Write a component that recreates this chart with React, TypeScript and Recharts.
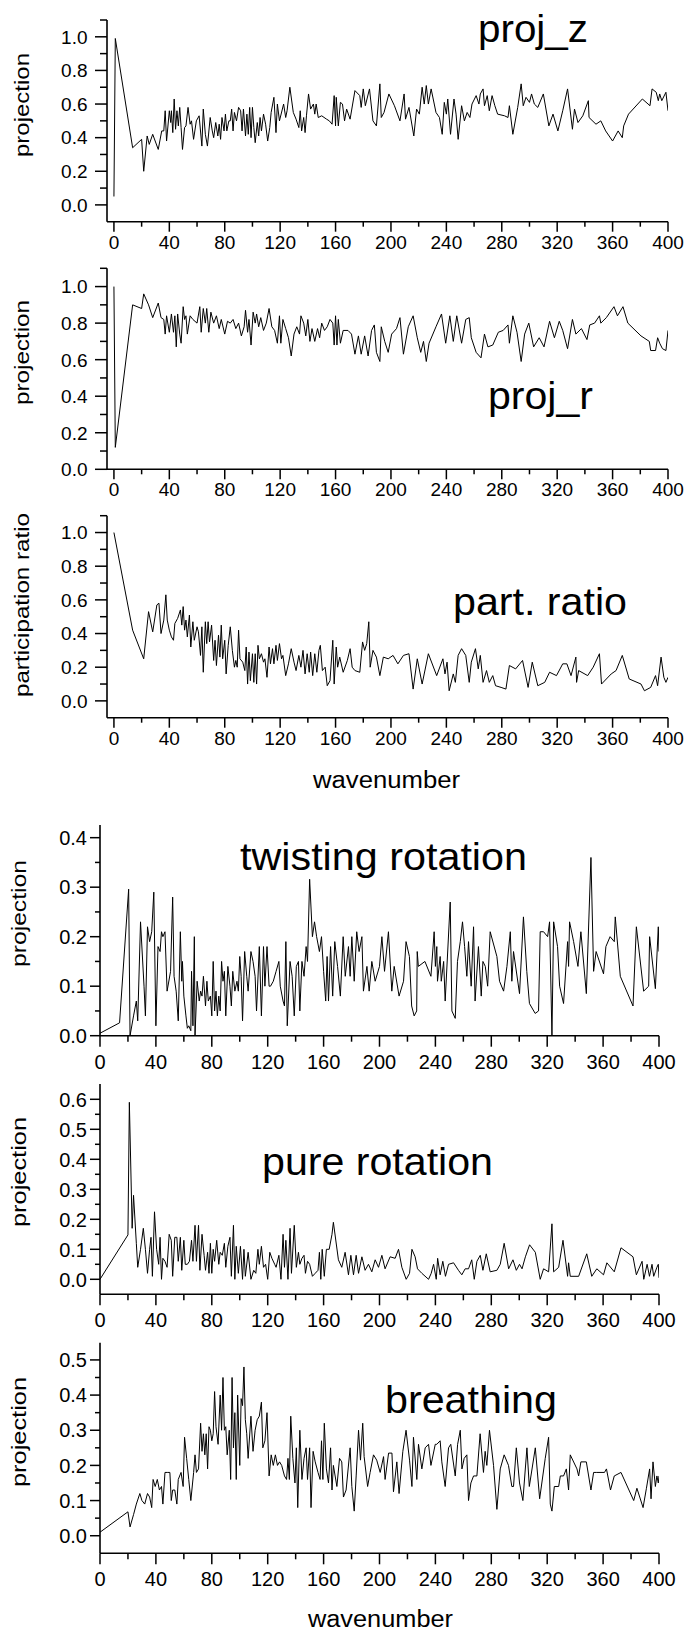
import React from 'react';
import { LineChart, Line, XAxis, YAxis } from 'recharts';

type Pt = [number, number];

// wavenumber / value pairs
const projZ: Pt[] = [[0,0.05],[1,0.99],[13.5,0.34],[20,0.39],[21.5,0.2],[24,0.41],[25.5,0.36],[28,0.42],[32,0.33],[34.5,0.44],[36,0.44],[37,0.56],[38,0.38],[40,0.56],[41,0.49],[41.5,0.56],[42.5,0.43],[43.5,0.63],[44.5,0.45],[45.5,0.56],[46.5,0.47],[47.5,0.58],[48.5,0.46],[49.5,0.33],[51,0.46],[52,0.47],[53.5,0.58],[55,0.48],[56,0.5],[57.5,0.39],[59.5,0.5],[61.5,0.53],[63.5,0.35],[64.5,0.57],[66,0.42],[67.5,0.35],[69.5,0.52],[71,0.44],[72,0.4],[73.5,0.49],[75,0.41],[76,0.48],[77,0.39],[78,0.52],[79.5,0.44],[80.5,0.54],[81.5,0.44],[83,0.5],[84,0.5],[85,0.57],[86,0.44],[87,0.55],[88.5,0.5],[90,0.58],[91.5,0.56],[92.5,0.44],[93.5,0.57],[95,0.41],[96,0.54],[97,0.42],[98,0.58],[99,0.4],[100,0.58],[101,0.46],[102,0.37],[103.5,0.49],[104.5,0.41],[105.5,0.52],[106.5,0.44],[108,0.54],[109.5,0.48],[111,0.38],[112.5,0.46],[113.5,0.55],[115.5,0.64],[117,0.43],[118,0.6],[119.5,0.5],[122.5,0.6],[124,0.52],[125,0.56],[127,0.7],[129.5,0.55],[131.5,0.51],[133.5,0.46],[134.5,0.56],[135.5,0.44],[137,0.52],[138,0.43],[139,0.53],[140.5,0.66],[142,0.57],[144,0.6],[145,0.54],[146,0.6],[147.5,0.52],[150,0.53],[153.5,0.51],[155.5,0.5],[157.5,0.48],[159,0.65],[160,0.47],[160.5,0.64],[162,0.47],[163.5,0.61],[165,0.6],[166.5,0.5],[168,0.57],[170.5,0.51],[174,0.68],[177.5,0.65],[178.5,0.58],[180,0.69],[181.5,0.59],[184.5,0.69],[187,0.5],[189.5,0.47],[192,0.72],[193,0.52],[195,0.55],[198.5,0.66],[202.5,0.59],[206.5,0.5],[209.5,0.66],[210.5,0.51],[213,0.58],[216.5,0.41],[218.5,0.57],[220.5,0.54],[222.5,0.7],[224,0.6],[225.5,0.71],[227,0.6],[229,0.69],[232.5,0.55],[235,0.52],[237,0.42],[238.5,0.61],[240,0.54],[241,0.63],[243,0.42],[245.5,0.63],[247,0.54],[248.5,0.39],[251,0.59],[253,0.5],[255,0.55],[257,0.52],[258.5,0.6],[261.5,0.65],[263.5,0.6],[264.5,0.66],[266.5,0.69],[267.5,0.59],[269.5,0.65],[271,0.56],[273,0.65],[275,0.59],[277,0.54],[282,0.53],[284.5,0.52],[285.5,0.59],[288,0.42],[291.5,0.58],[294,0.72],[295.5,0.59],[297.5,0.64],[300,0.61],[301.5,0.66],[303.5,0.6],[306,0.58],[310,0.66],[314,0.47],[317,0.54],[320.5,0.44],[324,0.56],[327.5,0.69],[331,0.45],[332.5,0.57],[335,0.49],[338.5,0.53],[342.5,0.62],[343,0.52],[348,0.48],[351.5,0.5],[355,0.44],[360,0.38],[364,0.44],[367,0.4],[368,0.47],[371.5,0.54],[381.5,0.63],[387,0.59],[388.5,0.69],[391.5,0.67],[393,0.62],[394,0.66],[395.5,0.62],[398.5,0.67],[400,0.56]];

const projR: Pt[] = [[0,1.0],[1,0.12],[13.5,0.9],[20,0.88],[21.5,0.96],[25,0.9],[28,0.83],[32,0.91],[34,0.83],[36,0.82],[37,0.74],[38,0.84],[40,0.75],[41.5,0.85],[43,0.75],[44,0.84],[45,0.67],[46,0.85],[47.5,0.74],[48.5,0.69],[50,0.89],[51,0.82],[52,0.84],[53,0.74],[55,0.84],[57,0.82],[60,0.8],[62,0.89],[63,0.75],[64.5,0.88],[66,0.8],[67,0.88],[68.5,0.75],[70,0.86],[72,0.8],[74,0.84],[76,0.77],[77.5,0.82],[80,0.74],[82,0.81],[84,0.8],[86,0.82],[88,0.77],[90,0.8],[92,0.73],[94,0.78],[95,0.87],[96.5,0.75],[97.5,0.82],[99,0.68],[100.5,0.86],[102,0.8],[103,0.85],[104.5,0.78],[106,0.83],[108,0.76],[110,0.8],[112,0.88],[114,0.78],[116,0.76],[118,0.69],[119.5,0.84],[120.5,0.69],[122,0.82],[124,0.77],[126,0.72],[128,0.62],[130,0.74],[132,0.78],[134,0.74],[135,0.84],[137,0.8],[138.5,0.73],[140,0.82],[141.5,0.7],[143,0.77],[145,0.7],[147,0.77],[148.5,0.72],[150,0.8],[152,0.76],[154,0.78],[156,0.82],[158,0.8],[159,0.68],[160,0.84],[161,0.68],[162,0.82],[163.5,0.69],[165.5,0.76],[169,0.76],[171.5,0.74],[174,0.63],[176.5,0.73],[178.5,0.63],[181,0.73],[183.5,0.62],[186,0.76],[188,0.79],[189.5,0.64],[192,0.59],[193,0.78],[195.5,0.7],[198,0.64],[200.5,0.74],[204,0.77],[206.5,0.83],[209,0.63],[212.5,0.78],[216,0.84],[219,0.72],[221.5,0.64],[223.5,0.7],[225.5,0.59],[227.5,0.69],[232.5,0.78],[236.5,0.85],[239.5,0.69],[242.5,0.84],[245,0.7],[247.5,0.84],[251,0.69],[254,0.82],[256.5,0.83],[258,0.72],[261.5,0.64],[265,0.61],[267.5,0.74],[270,0.67],[273.5,0.68],[277.5,0.75],[281,0.76],[284.5,0.79],[285.5,0.69],[288,0.84],[291,0.75],[294,0.59],[296.5,0.74],[299.5,0.8],[303,0.67],[307,0.72],[310.5,0.67],[314.5,0.81],[318,0.72],[321.5,0.81],[324,0.76],[327.5,0.66],[331,0.82],[333.5,0.74],[337.5,0.77],[341.5,0.71],[343.5,0.79],[347,0.8],[350.5,0.84],[351.5,0.8],[355.5,0.83],[361,0.89],[363.5,0.84],[367.5,0.89],[371,0.8],[380.5,0.73],[386.5,0.7],[387.5,0.65],[391,0.65],[392.5,0.72],[394,0.69],[396,0.66],[398.5,0.65],[400,0.76]];

const partRatio: Pt[] = [[0,1.0],[13.5,0.42],[21.5,0.25],[25,0.53],[28,0.41],[31,0.57],[32.5,0.58],[34,0.4],[36,0.48],[37.5,0.63],[38.5,0.48],[40,0.42],[41.5,0.38],[43,0.36],[44,0.46],[46,0.49],[48,0.54],[49,0.45],[50,0.56],[51,0.42],[52,0.48],[53,0.38],[54.5,0.51],[55.5,0.32],[57,0.47],[58,0.36],[60,0.44],[61,0.41],[62.5,0.27],[63.5,0.44],[64.5,0.17],[66,0.47],[67,0.34],[68,0.47],[69,0.35],[70.5,0.45],[72,0.24],[73,0.36],[74,0.21],[75.5,0.39],[76.5,0.26],[77.5,0.45],[78.5,0.25],[80,0.36],[81,0.16],[82.5,0.33],[84,0.44],[85.5,0.3],[87,0.2],[88,0.24],[89,0.2],[90,0.42],[91,0.25],[93,0.23],[94.5,0.18],[95.5,0.32],[96.5,0.1],[97.5,0.29],[98.5,0.12],[100,0.28],[101,0.11],[102,0.28],[103,0.1],[104,0.33],[105,0.25],[106.5,0.28],[108,0.23],[109,0.25],[110.5,0.14],[112,0.32],[113,0.22],[114.5,0.31],[115.5,0.22],[117,0.33],[118,0.24],[119.5,0.34],[121,0.25],[122,0.27],[124,0.15],[126,0.22],[128,0.31],[130,0.23],[131.5,0.18],[133.5,0.27],[135,0.2],[136.5,0.3],[138,0.16],[139.5,0.28],[141,0.17],[142,0.29],[143.5,0.15],[145,0.28],[146.5,0.17],[148,0.3],[149,0.33],[150.5,0.18],[152.5,0.2],[154,0.09],[156,0.12],[158,0.36],[159,0.1],[160.5,0.32],[161.5,0.2],[163,0.26],[165.5,0.17],[168.5,0.24],[170.5,0.31],[172,0.2],[174,0.18],[177.5,0.17],[179.5,0.35],[181,0.3],[182.5,0.34],[184,0.47],[185,0.2],[187,0.3],[189.5,0.26],[192,0.15],[194.5,0.26],[198,0.25],[201.5,0.27],[205,0.22],[209,0.27],[213,0.28],[216,0.07],[219,0.25],[222.5,0.1],[227,0.28],[233,0.15],[237.5,0.25],[239,0.16],[240.5,0.23],[242,0.06],[245,0.16],[246.5,0.11],[248.5,0.27],[251,0.31],[254,0.27],[256.5,0.11],[258,0.23],[261,0.31],[263,0.19],[264.5,0.27],[266.5,0.11],[269,0.18],[271,0.11],[273.5,0.15],[275.5,0.09],[279.5,0.08],[283,0.07],[285.5,0.21],[290,0.19],[295,0.24],[299,0.08],[302,0.23],[306,0.09],[311,0.11],[314.5,0.17],[319.5,0.15],[324,0.22],[327,0.22],[330,0.15],[333.5,0.26],[334,0.11],[335.5,0.18],[342,0.15],[346,0.2],[350.5,0.28],[352,0.1],[359,0.16],[362.5,0.18],[367,0.27],[372,0.13],[380.5,0.1],[383,0.06],[387.5,0.08],[391,0.15],[392.5,0.09],[395,0.26],[397,0.14],[398.5,0.11],[400,0.14]];

const twisting: Pt[] = [[0,0.005],[14,0.026],[20.5,0.296],[21.5,0.0],[24,0.04],[26,0.07],[27,0.03],[29,0.23],[31.5,0.1],[32.5,0.04],[34,0.22],[35.5,0.19],[37,0.21],[38.5,0.29],[40,0.02],[41.5,0.18],[43,0.17],[44,0.21],[45,0.2],[46.5,0.21],[48,0.09],[50.5,0.13],[52,0.28],[53,0.12],[54.5,0.09],[56,0.03],[57.5,0.21],[58.5,0.11],[59,0.15],[60,0.08],[61.5,0.04],[62.5,0.015],[63.5,0.02],[65,0.01],[65.5,0.13],[66.5,0.02],[67.5,0.2],[68,0.0],[69.5,0.11],[71,0.07],[72,0.09],[73,0.08],[74,0.12],[75.5,0.06],[76.5,0.11],[77.5,0.07],[79,0.08],[80,0.04],[81,0.15],[82,0.05],[83,0.09],[84,0.04],[85,0.08],[86,0.05],[87,0.15],[88,0.11],[89,0.13],[90,0.04],[91.5,0.14],[93,0.1],[94,0.06],[95,0.13],[96.5,0.09],[98,0.11],[99,0.09],[100,0.16],[101,0.12],[102,0.03],[103.5,0.17],[105,0.12],[106,0.09],[108,0.17],[109.5,0.15],[111,0.12],[112,0.05],[114,0.18],[115.5,0.04],[117,0.18],[118,0.1],[119.5,0.18],[121,0.1],[122,0.1],[124,0.11],[126,0.13],[128,0.15],[129,0.1],[131,0.07],[132,0.06],[133,0.19],[134,0.02],[136,0.15],[137.5,0.12],[139,0.04],[140.5,0.14],[142,0.15],[143,0.05],[144.5,0.15],[146,0.12],[147.5,0.18],[148.5,0.15],[150,0.316],[152,0.2],[153.5,0.23],[155,0.2],[157,0.17],[158.5,0.2],[160,0.13],[161.5,0.07],[162.5,0.16],[163.5,0.07],[165,0.18],[166.5,0.08],[168,0.19],[170,0.14],[172,0.08],[174,0.2],[175.5,0.12],[177.8,0.18],[179,0.12],[180.2,0.2],[181.9,0.11],[183.7,0.21],[185.4,0.17],[187.4,0.2],[188.5,0.09],[191,0.14],[192.6,0.09],[194.5,0.15],[196.9,0.11],[200,0.14],[201.7,0.2],[203.6,0.13],[206.4,0.21],[208.8,0.09],[210.5,0.14],[214,0.08],[217.2,0.11],[219,0.19],[221.4,0.16],[223,0.06],[224.8,0.04],[226.6,0.05],[227,0.17],[227.8,0.14],[232.5,0.15],[236.8,0.12],[239.1,0.21],[240,0.14],[241,0.18],[241.5,0.11],[243.4,0.16],[244.2,0.11],[245.9,0.15],[247,0.07],[250.6,0.27],[251.8,0.05],[254.2,0.035],[255.8,0.15],[257.8,0.19],[259.4,0.23],[260.9,0.18],[262.5,0.12],[263.7,0.19],[265.6,0.1],[267.3,0.22],[268.4,0.07],[270.8,0.18],[272.8,0.08],[274,0.15],[275.7,0.14],[277.4,0.1],[279.2,0.21],[284,0.16],[285.9,0.11],[288.8,0.09],[291.2,0.14],[293.6,0.21],[294.7,0.11],[295.9,0.17],[300.2,0.085],[303,0.24],[305.4,0.13],[307.3,0.065],[311.4,0.045],[313.8,0.05],[315,0.21],[317.4,0.21],[320.3,0.2],[321.7,0.23],[323.4,0.0],[324.6,0.23],[327.4,0.18],[328.9,0.1],[331.7,0.065],[334.6,0.19],[335.3,0.14],[336,0.23],[338.9,0.19],[342,0.14],[344.1,0.21],[348,0.085],[351.3,0.36],[353.2,0.13],[355,0.17],[360.3,0.125],[362,0.18],[365,0.2],[368,0.19],[368.7,0.24],[372.3,0.12],[381.4,0.06],[383.8,0.22],[389,0.09],[392.6,0.1],[393.3,0.2],[397.4,0.095],[399.5,0.22],[400,0.17]];

const pureRotation: Pt[] = [[0,0.0],[20,0.148],[21,0.59],[23,0.17],[24,0.28],[26,0.12],[27,0.04],[29,0.1],[31,0.17],[32.5,0.1],[34,0.02],[35.5,0.1],[36.5,0.14],[37.5,0.01],[39,0.225],[40.5,0.1],[42,0.05],[43,0.14],[44,0.0],[45,0.07],[46.5,0.06],[48,0.04],[49.5,0.15],[51,0.13],[52,0.01],[53.5,0.14],[55,0.14],[56,0.06],[57.5,0.14],[58.5,0.03],[60,0.13],[61,0.05],[62.5,0.05],[64,0.06],[65.5,0.13],[66.5,0.06],[68,0.18],[69,0.06],[70.5,0.18],[71.5,0.03],[73,0.15],[74.5,0.08],[75.5,0.03],[77,0.09],[78,0.02],[79,0.12],[80,0.02],[81,0.1],[82,0.06],[83.5,0.13],[85,0.05],[86,0.09],[87.5,0.08],[89,0.12],[90,0.04],[91.5,0.11],[93,0.14],[94,0.01],[95.5,0.18],[96.5,0.0],[97.5,0.11],[99,0.02],[100.5,0.11],[102,0.0],[103,0.1],[104,0.01],[106,0.09],[108,0.0],[110,0.03],[111.5,0.02],[113,0.1],[114,0.05],[115.5,0.11],[117,0.04],[118.5,0.05],[120,0.0],[121.5,0.09],[123,0.07],[125,0.05],[126,0.04],[128,0.08],[129.5,0.0],[131,0.15],[132,0.04],[133,0.13],[134.5,0.0],[136,0.17],[137,0.02],[139,0.18],[140.5,0.04],[142,0.09],[143,0.05],[144.5,0.07],[146,0.08],[147,0.02],[148.5,0.06],[150,0.05],[152,0.01],[154,0.02],[156,0.03],[157,0.09],[158,0.0],[159,0.1],[160.5,0.01],[162,0.1],[164,0.1],[166,0.15],[167,0.19],[170.6,0.065],[173,0.04],[175.4,0.09],[177.8,0.015],[179.5,0.08],[181.4,0.015],[183.3,0.08],[185,0.02],[187.4,0.075],[189.7,0.03],[192.1,0.05],[194.5,0.025],[196.9,0.065],[199.3,0.04],[201.7,0.08],[204,0.035],[207.6,0.075],[211.2,0.07],[213.6,0.1],[216,0.04],[219.1,0.0],[221.5,0.02],[223.2,0.1],[225.5,0.075],[227.2,0.035],[230.3,0.02],[235.1,0.0],[237,0.02],[238.7,0.05],[240.6,0.0],[241.6,0.07],[243.4,0.015],[245.3,0.06],[247.2,0.01],[249.4,0.05],[253,0.055],[256.5,0.03],[258.9,0.015],[261.3,0.035],[263.7,0.035],[266,0.065],[267.8,0.0],[269.7,0.06],[272.1,0.08],[274,0.03],[276.4,0.085],[279.2,0.025],[284,0.03],[286.4,0.05],[289.2,0.12],[292.4,0.035],[295.5,0.065],[297.9,0.03],[300.2,0.05],[302,0.035],[304.4,0.075],[307.4,0.115],[311.5,0.09],[315,0.0],[317.4,0.035],[321,0.025],[323.4,0.185],[324.6,0.025],[328.2,0.04],[331.3,0.13],[334.6,0.01],[335.3,0.055],[336.5,0.01],[342.5,0.01],[348.3,0.085],[351.9,0.01],[355.5,0.035],[360.3,0.015],[362.7,0.055],[368,0.025],[372.8,0.105],[381.4,0.075],[383.8,0.015],[387.9,0.06],[389.1,0.0],[391.5,0.05],[393.2,0.01],[395,0.05],[396.2,0.01],[398.5,0.04],[399.5,0.05],[400,0.005]];

const breathing: Pt[] = [[0,0.01],[20,0.068],[21.5,0.025],[24,0.06],[26,0.09],[28.5,0.12],[30,0.1],[32,0.09],[34,0.12],[35.5,0.11],[37,0.08],[38,0.16],[39.5,0.14],[41,0.16],[42.5,0.13],[44,0.14],[45,0.09],[46.5,0.18],[48.5,0.18],[50,0.18],[51,0.1],[52,0.13],[53.5,0.13],[55,0.09],[56,0.16],[58,0.18],[59.5,0.14],[60.5,0.28],[62,0.22],[63.5,0.16],[65,0.1],[67,0.18],[68,0.23],[69,0.18],[70.5,0.19],[72,0.32],[73,0.24],[74,0.29],[75,0.23],[76,0.29],[77,0.19],[78,0.31],[79,0.3],[80,0.27],[81,0.29],[82,0.41],[83,0.31],[84.5,0.26],[86,0.4],[87,0.3],[88,0.45],[89,0.3],[90,0.31],[91,0.23],[92.5,0.3],[93.5,0.16],[94.5,0.45],[95.5,0.25],[96.5,0.35],[97.5,0.16],[98.5,0.4],[100,0.2],[101,0.39],[102,0.37],[103,0.48],[104,0.33],[105,0.29],[106,0.22],[108,0.34],[109.5,0.24],[111,0.3],[112.5,0.33],[114,0.34],[115.5,0.38],[116.5,0.25],[118,0.27],[119.5,0.35],[121,0.17],[122.5,0.23],[124,0.2],[125.5,0.23],[127,0.2],[128.5,0.21],[130,0.2],[132,0.17],[133.5,0.16],[134.5,0.22],[135.5,0.16],[136.5,0.34],[138,0.22],[139.5,0.15],[140.5,0.25],[141.5,0.08],[143,0.3],[144.5,0.16],[146,0.22],[147.5,0.25],[148.5,0.16],[150,0.25],[151,0.08],[152.5,0.24],[154,0.21],[156,0.18],[157.5,0.16],[158.5,0.27],[159.5,0.16],[160.5,0.32],[162,0.19],[163.5,0.15],[165,0.25],[166,0.13],[167,0.2],[169.5,0.14],[171.4,0.22],[173,0.21],[174.2,0.11],[176.1,0.13],[179,0.25],[180.2,0.14],[181.9,0.07],[183.3,0.17],[185,0.3],[186.4,0.215],[188,0.32],[189,0.225],[191.5,0.14],[193.3,0.18],[195.7,0.23],[198,0.215],[200.5,0.18],[202.9,0.225],[204,0.16],[206.5,0.235],[208.9,0.235],[210,0.125],[212.4,0.21],[214,0.12],[216.7,0.24],[219,0.3],[221.5,0.215],[223.2,0.14],[224.3,0.28],[226.7,0.16],[227.9,0.26],[230.3,0.19],[232.7,0.25],[235.1,0.26],[236.8,0.2],[239.9,0.26],[241,0.26],[243.4,0.27],[244.6,0.21],[247,0.14],[249.4,0.25],[251,0.26],[254.2,0.17],[255.9,0.26],[257.8,0.3],[259,0.19],[260.6,0.22],[262.5,0.23],[263.7,0.1],[265.4,0.15],[267.3,0.17],[269.7,0.17],[272,0.29],[274.4,0.18],[275.6,0.24],[276.8,0.2],[278.7,0.3],[281.6,0.2],[284,0.075],[286.4,0.19],[289.2,0.23],[292.3,0.2],[294.7,0.14],[295.9,0.14],[297.9,0.25],[300.2,0.15],[302.6,0.1],[305.5,0.25],[307.2,0.14],[311.5,0.25],[314.6,0.105],[318.6,0.22],[321,0.28],[322.2,0.09],[323.4,0.07],[325.1,0.14],[328.2,0.14],[329.4,0.17],[331.7,0.17],[333.7,0.19],[335.3,0.13],[336.5,0.23],[341.3,0.19],[342.5,0.17],[344.1,0.21],[348,0.21],[351.3,0.13],[353.2,0.18],[355.5,0.18],[361,0.18],[362.4,0.19],[365.3,0.13],[368,0.17],[372.8,0.18],[381.9,0.1],[384.2,0.135],[388.6,0.08],[391,0.135],[393.3,0.19],[394.3,0.105],[395.7,0.21],[397.4,0.14],[398.5,0.17],[399.5,0.15],[400,0.17]];

const xTicks = [0, 20, 40, 60, 80, 100, 120, 140, 160, 180, 200, 220, 240, 260, 280, 300, 320, 340, 360, 380, 400];
const yTicksTop = [0, 0.1, 0.2, 0.3, 0.4, 0.5, 0.6, 0.7, 0.8, 0.9, 1.0, 1.1];
const yTicksTwist = [0, 0.05, 0.1, 0.15, 0.2, 0.25, 0.3, 0.35, 0.4];
const yTicksPure = [0, 0.05, 0.1, 0.15, 0.2, 0.25, 0.3, 0.35, 0.4, 0.45, 0.5, 0.55, 0.6];
const yTicksBreath = [0, 0.05, 0.1, 0.15, 0.2, 0.25, 0.3, 0.35, 0.4, 0.45, 0.5];

const FONT = 'Arial, "Liberation Sans", Helvetica, sans-serif';

const isMult = (v: number, step: number) => Math.abs(v / step - Math.round(v / step)) < 1e-6;

const xTick = (len: number, minorLen: number, labelDy: number, fs: number) => (props: any) => {
  const { x, y, payload } = props;
  const v = payload.value as number;
  const major = isMult(v, 40);
  return (
    <g>
      <line x1={x} y1={y} x2={x} y2={y + (major ? len : minorLen)} stroke="#000" strokeWidth={1.5} />
      {major && (
        <text x={x} y={y + labelDy} textAnchor="middle" fontSize={fs} fontFamily={FONT} fill="#000">{v}</text>
      )}
    </g>
  );
};

const yTick = (step: number, len: number, minorLen: number, gap: number, fs: number) => (props: any) => {
  const { x, y, payload } = props;
  const v = payload.value as number;
  const major = isMult(v, step);
  return (
    <g>
      <line x1={x} y1={y} x2={x - (major ? len : minorLen)} y2={y} stroke="#000" strokeWidth={1.5} />
      {major && (
        <text x={x - gap} y={y} dy="0.36em" textAnchor="end" fontSize={fs} fontFamily={FONT} fill="#000">{v.toFixed(1)}</text>
      )}
    </g>
  );
};

interface PanelProps {
  data: Pt[];
  top: number;
  plotLeft: number;
  plotRight: number;
  plotTop: number;
  plotBottom: number;
  xDomain: [number, number];
  yDomain: [number, number];
  yTicks: number[];
  yStep: number;
  lower: boolean;
}

function Panel({ data, top, plotLeft, plotRight, plotTop, plotBottom, xDomain, yDomain, yTicks, yStep, lower }: PanelProps) {
  const height = 265;
  const rows = data.map(([wn, v]) => ({ wn, v }));
  const margin = {
    top: plotTop - top,
    left: plotLeft - 60,
    right: 689 - plotRight,
    bottom: top + height - plotBottom - 30,
  };
  const axisLine = { stroke: '#000', strokeWidth: 1.6 };
  return (
    <div style={{ position: 'absolute', left: 0, top }}>
      <LineChart width={689} height={height} data={rows} margin={margin}>
        <XAxis
          type="number"
          dataKey="wn"
          domain={xDomain}
          ticks={xTicks}
          interval={0}
          height={30}
          tickSize={0}
          tickMargin={0}
          tickLine={false}
          axisLine={axisLine}
          allowDataOverflow
          tick={lower ? xTick(11, 6, 33, 20) : xTick(10, 5, 27, 19)}
        />
        <YAxis
          type="number"
          domain={yDomain}
          ticks={yTicks}
          interval={0}
          width={60}
          tickSize={0}
          tickMargin={0}
          tickLine={false}
          axisLine={axisLine}
          allowDataOverflow
          tick={lower ? yTick(yStep, 10, 5, 13, 20) : yTick(yStep, 12, 7, 19.5, 19)}
        />
        <Line type="linear" dataKey="v" stroke="#000" strokeWidth={1} dot={false} isAnimationActive={false} />
      </LineChart>
    </div>
  );
}

export default function App() {
  const top = { plotLeft: 107, plotRight: 668, xDomain: [-5, 400] as [number, number], lower: false };
  const bot = { plotLeft: 100, plotRight: 659, xDomain: [0, 400] as [number, number], lower: true };
  const vText = (x: number, yStart: number, len: number, s: string) => (
    <text x={x} y={yStart} transform={`rotate(-90 ${x} ${yStart})`} fontSize={20} fontFamily={FONT}
      textLength={len} lengthAdjust="spacingAndGlyphs" fill="#000">{s}</text>
  );
  const hText = (x: number, y: number, len: number, size: number, s: string) => (
    <text x={x} y={y} fontSize={size} fontFamily={FONT} textLength={len} lengthAdjust="spacingAndGlyphs" fill="#000">{s}</text>
  );
  return (
    <div style={{ position: 'absolute', left: 0, top: 0, width: 689, height: 1634, background: '#fff' }}>
      <Panel data={projZ} top={0} plotTop={20} plotBottom={221.7} yDomain={[-0.1, 1.1]} yTicks={yTicksTop} yStep={0.2} {...top} />
      <Panel data={projR} top={250} plotTop={268.3} plotBottom={469.3} yDomain={[0, 1.1]} yTicks={yTicksTop} yStep={0.2} {...top} />
      <Panel data={partRatio} top={500} plotTop={515.7} plotBottom={717.7} yDomain={[-0.1, 1.1]} yTicks={yTicksTop} yStep={0.2} {...top} />
      <Panel data={twisting} top={810} plotTop={825} plotBottom={1035.7} yDomain={[0, 0.4256]} yTicks={yTicksTwist} yStep={0.1} {...bot} />
      <Panel data={pureRotation} top={1070} plotTop={1084} plotBottom={1294.3} yDomain={[-0.05, 0.651]} yTicks={yTicksPure} yStep={0.1} {...bot} />
      <Panel data={breathing} top={1330} plotTop={1342.7} plotBottom={1553.3} yDomain={[-0.05, 0.549]} yTicks={yTicksBreath} yStep={0.1} {...bot} />
      <svg width={689} height={1634} style={{ position: 'absolute', left: 0, top: 0, pointerEvents: 'none' }}>
        {vText(29.3, 157, 104, 'projection')}
        {vText(29.3, 405, 105, 'projection')}
        {vText(29.3, 697, 184, 'participation ratio')}
        {vText(26, 967, 107, 'projection')}
        {vText(26, 1227, 110, 'projection')}
        {vText(26, 1487, 110, 'projection')}
        {hText(313, 788, 147, 23, 'wavenumber')}
        {hText(308, 1627, 145, 23, 'wavenumber')}
        {hText(478, 42, 110, 38, 'proj_z')}
        {hText(488, 409, 105, 38, 'proj_r')}
        {hText(453, 615, 174, 38, 'part. ratio')}
        {hText(240, 870, 287, 38, 'twisting rotation')}
        {hText(262, 1175, 231, 38, 'pure rotation')}
        {hText(385, 1413, 172, 38, 'breathing')}
      </svg>
    </div>
  );
}
